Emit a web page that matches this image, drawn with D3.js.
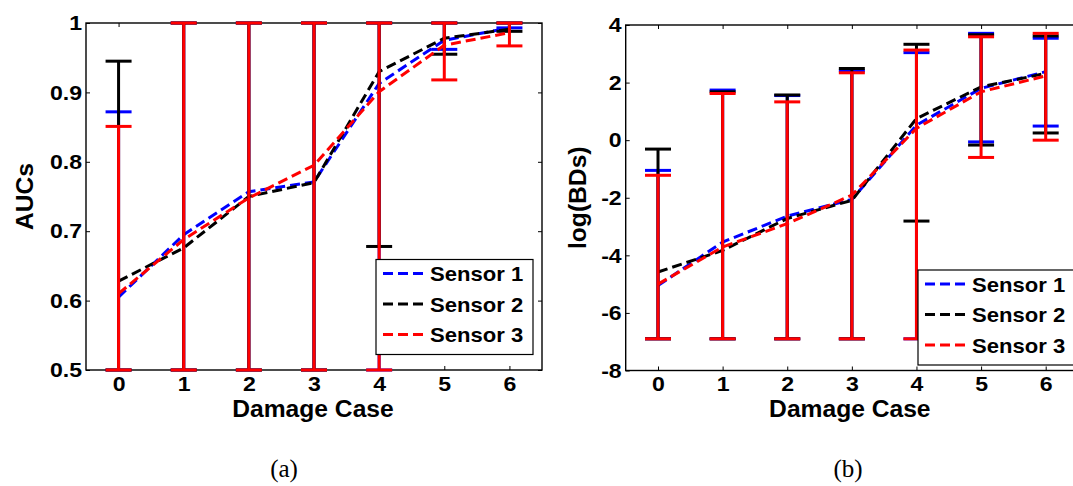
<!DOCTYPE html>
<html>
<head>
<meta charset="utf-8">
<script src="https://cdn.jsdelivr.net/npm/d3@7"></script>
<style>
  body { margin: 0; background: #fff; }
  svg { display: block; }
</style>
</head>
<body>
<svg id="chart"></svg>
<script>
// Damage cases on the x axis
const cases = [0, 1, 2, 3, 4, 5, 6];
const sensorNames = ['Sensor 1', 'Sensor 2', 'Sensor 3'];
const sensorColors = ['#0000ff', '#000000', '#ff0000'];

// (a) AUCs
const aucTicks = [0.5, 0.6, 0.7, 0.8, 0.9, 1];
const aucMean1 = [0.605, 0.695, 0.757, 0.771, 0.913, 0.975, 0.993];
const aucMean2 = [0.628, 0.676, 0.750, 0.770, 0.930, 0.978, 0.991];
const aucMean3 = [0.610, 0.688, 0.748, 0.795, 0.901, 0.968, 0.986];
const aucLower1 = [0.5, 0.5, 0.5, 0.5, 0.5, 0.962, 0.993];
const aucLower2 = [0.5, 0.5, 0.5, 0.5, 0.678, 0.955, 0.988];
const aucLower3 = [0.5, 0.5, 0.5, 0.5, 0.5, 0.918, 0.967];
const aucUpper1 = [0.872, 1, 1, 1, 1, 1, 1];
const aucUpper2 = [0.945, 1, 1, 1, 1, 1, 1];
const aucUpper3 = [0.851, 1, 1, 1, 1, 1, 1];

// (b) log(BDs)
const bdTicks = [-8, -6, -4, -2, 0, 2, 4];
const bdMean1 = [-5.05, -3.54, -2.64, -2.06, 0.52, 1.80, 2.38];
const bdMean2 = [-4.58, -3.83, -2.72, -2.09, 0.75, 1.85, 2.32];
const bdMean3 = [-5.00, -3.71, -2.90, -1.91, 0.41, 1.68, 2.23];
const bdLower1 = [-6.9, -6.9, -6.9, -6.9, -6.9, -0.06, 0.49];
const bdLower2 = [-6.9, -6.9, -6.9, -6.9, -2.81, -0.17, 0.25];
const bdLower3 = [-6.9, -6.9, -6.9, -6.9, -6.9, -0.60, 0.00];
const bdUpper1 = [-1.05, 1.74, 1.55, 2.41, 3.04, 3.71, 3.54];
const bdUpper2 = [-0.31, 1.68, 1.57, 2.49, 3.33, 3.66, 3.62];
const bdUpper3 = [-1.22, 1.62, 1.33, 2.34, 3.13, 3.59, 3.71];

const width = 1073, height = 486;
const font = "'Liberation Sans', Arial, Helvetica, sans-serif";

const svg = d3.select('#chart')
  .attr('width', width)
  .attr('height', height)
  .attr('viewBox', `0 0 ${width} ${height}`);

svg.append('rect').attr('width', width).attr('height', height).attr('fill', '#fff');

// widen text a little, the source figure is stretched horizontally
function stretch(sel, k) {
  sel.each(function () {
    const len = this.getComputedTextLength();
    d3.select(this).attr('textLength', len * k).attr('lengthAdjust', 'spacingAndGlyphs');
  });
}

function drawPanel(p) {
  const x = d3.scaleLinear().domain([-0.5, 6.5]).range([p.left, p.right]);
  const y = d3.scaleLinear().domain(p.yDomain).range([p.bottom, p.top]);
  const g = svg.append('g');

  // axes (ticks point inward like MATLAB)
  const gx = g.append('g')
    .attr('transform', `translate(0,${p.bottom})`)
    .call(d3.axisBottom(x).tickValues(cases).tickFormat(d => String(d))
      .tickSizeInner(-4).tickSizeOuter(0).tickPadding(6));
  const gy = g.append('g')
    .attr('transform', `translate(${p.left},0)`)
    .call(d3.axisLeft(y).tickValues(p.yTicks).tickFormat(d => String(d))
      .tickSizeInner(-4).tickSizeOuter(0).tickPadding(4));
  g.append('g')
    .attr('transform', `translate(0,${p.top})`)
    .call(d3.axisTop(x).tickValues(cases).tickFormat('').tickSizeInner(-4).tickSizeOuter(0));
  g.append('g')
    .attr('transform', `translate(${p.right},0)`)
    .call(d3.axisRight(y).tickValues(p.yTicks).tickFormat('').tickSizeInner(-4).tickSizeOuter(0));

  g.selectAll('.domain').remove();
  g.selectAll('.tick line').attr('stroke', '#000').attr('stroke-width', 1);
  g.selectAll('.tick text')
    .attr('fill', '#000')
    .style('font-family', font)
    .style('font-weight', 'bold')
    .style('font-size', '21px');
  stretch(gx.selectAll('.tick text'), 1.1);
  stretch(gy.selectAll('.tick text'), 1.1);

  g.append('rect')
    .attr('x', p.left).attr('y', p.top)
    .attr('width', p.right - p.left).attr('height', p.bottom - p.top)
    .attr('fill', 'none').attr('stroke', '#000').attr('stroke-width', 1.4);

  // error bars and mean lines, one sensor at a time
  const line = d3.line().x((d, i) => x(cases[i])).y(d => y(d));
  const cap = 13;
  p.means.forEach((mean, s) => {
    const color = sensorColors[s];
    const lo = p.lowers[s], hi = p.uppers[s];
    const eb = g.append('g').attr('stroke', color).attr('stroke-width', 3).attr('fill', 'none');
    cases.forEach((c, i) => {
      eb.append('line').attr('x1', x(c)).attr('x2', x(c)).attr('y1', y(lo[i])).attr('y2', y(hi[i]));
      eb.append('line').attr('x1', x(c) - cap).attr('x2', x(c) + cap).attr('y1', y(lo[i])).attr('y2', y(lo[i]));
      eb.append('line').attr('x1', x(c) - cap).attr('x2', x(c) + cap).attr('y1', y(hi[i])).attr('y2', y(hi[i]));
    });
    g.append('path')
      .datum(mean)
      .attr('d', line)
      .attr('fill', 'none')
      .attr('stroke', color)
      .attr('stroke-width', 3)
      .attr('stroke-dasharray', '10,5');
  });

  // axis labels
  const xl = g.append('text')
    .attr('x', (p.left + p.right) / 2 + p.xLabelShift)
    .attr('y', 417)
    .attr('text-anchor', 'middle')
    .style('font-family', font).style('font-weight', 'bold').style('font-size', '23px')
    .text('Damage Case');
  stretch(xl, 1.07);

  const yl = g.append('text')
    .attr('transform', `translate(${p.yLabelX},${(p.top + p.bottom) / 2}) rotate(-90)`)
    .attr('text-anchor', 'middle')
    .style('font-family', font).style('font-weight', 'bold').style('font-size', '23px')
    .text(p.yLabel);
  stretch(yl, 1.07);

  // legend
  const lg = g.append('g').attr('transform', `translate(${p.legendX},${p.legendY})`);
  lg.append('rect')
    .attr('width', 157).attr('height', 95)
    .attr('fill', '#fff').attr('stroke', '#000').attr('stroke-width', 1.2);
  sensorNames.forEach((name, s) => {
    const ly = 14 + s * 30.5;
    lg.append('line')
      .attr('x1', 7).attr('x2', 50).attr('y1', ly).attr('y2', ly)
      .attr('stroke', sensorColors[s]).attr('stroke-width', 3).attr('stroke-dasharray', '10,5');
    const t = lg.append('text')
      .attr('x', 54).attr('y', ly).attr('dy', '0.36em')
      .style('font-family', font).style('font-weight', 'bold').style('font-size', '21px')
      .text(name);
    stretch(t, 1.05);
  });

  // caption
  svg.append('text')
    .attr('x', p.captionX).attr('y', 477)
    .attr('text-anchor', 'middle')
    .style('font-family', "'Liberation Serif', 'Times New Roman', serif")
    .style('font-size', '25px')
    .text(p.caption);
}

drawPanel({
  left: 86, right: 542, top: 23, bottom: 370,
  yDomain: [0.5, 1], yTicks: aucTicks,
  means: [aucMean1, aucMean2, aucMean3],
  lowers: [aucLower1, aucLower2, aucLower3],
  uppers: [aucUpper1, aucUpper2, aucUpper3],
  yLabel: 'AUCs', yLabelX: 33, xLabelShift: -1,
  legendX: 376, legendY: 259.5,
  caption: '(a)', captionX: 284
});

drawPanel({
  left: 625.7, right: 1078, top: 25, bottom: 370.5,
  yDomain: [-8, 4], yTicks: bdTicks,
  means: [bdMean1, bdMean2, bdMean3],
  lowers: [bdLower1, bdLower2, bdLower3],
  uppers: [bdUpper1, bdUpper2, bdUpper3],
  yLabel: 'log(BDs)', yLabelX: 586, xLabelShift: -2,
  legendX: 918, legendY: 270,
  caption: '(b)', captionX: 848
});
</script>
</body>
</html>
